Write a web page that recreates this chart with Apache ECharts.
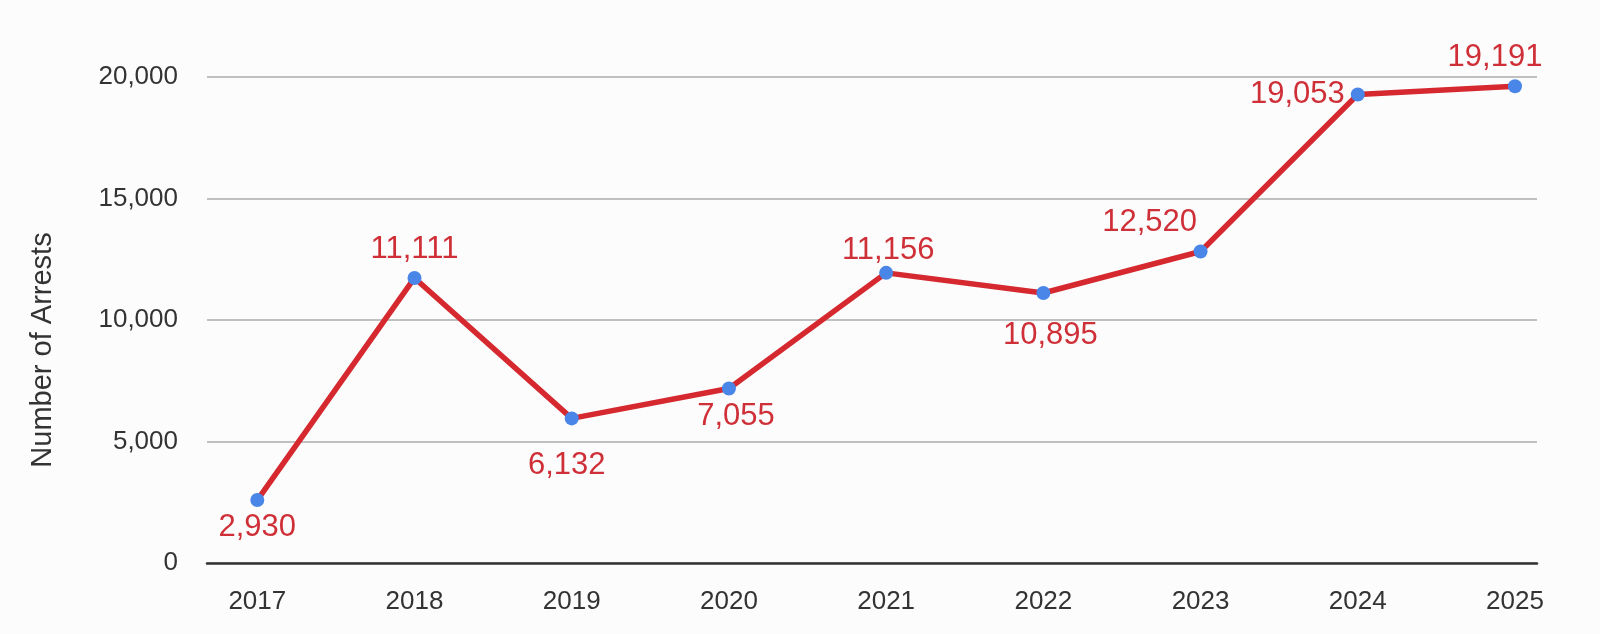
<!DOCTYPE html>
<html lang="en">
<head>
  <meta charset="UTF-8">
  <title>Number of Arrests</title>
  <style>
    html, body { margin: 0; padding: 0; background: #fcfcfc; }
    #myEcharts { width: 1600px; height: 634px; }
  </style>
  <script src="https://cdn.jsdelivr.net/npm/echarts@6/dist/echarts.min.js"></script>
</head>
<body>
  <div id="myEcharts"></div>
  <script>
    // years on the x axis
    var years = [2017, 2018, 2019, 2020, 2021, 2022, 2023, 2024, 2025];
    // where the points sit in the picture
    var arrests = [2590, 11730, 5950, 7180, 11940, 11110, 12820, 19280, 19620];
    // the printed labels (they don't quite match the point heights)
    var labelTexts = ['2,930', '11,111', '6,132', '7,055', '11,156', '10,895', '12,520', '19,053', '19,191'];
    var yTicks = [0, 5000, 10000, 15000, 20000];

    // label placement per point
    var labelPos = [
      { position: 'bottom', offset: [0, -3] },
      { position: 'top', offset: [0, 2] },
      { position: 'bottom', offset: [-5, 17] },
      { position: 'bottom', offset: [7, -3] },
      { position: 'top', offset: [2, 8] },
      { position: 'bottom', offset: [7, 12] },
      { position: 'top', offset: [-51, 1] },
      { position: 'left', offset: [2, 0] },
      { position: 'top', offset: [-20, 2] }
    ];

    var myChart = echarts.init(document.getElementById('myEcharts'));
    var option = {
      backgroundColor: '#fcfcfc',
      textStyle: { fontFamily: 'Liberation Sans' },
      grid: { left: 207, right: 63, top: 77, bottom: 71 },
      xAxis: {
        type: 'value',
        min: 2016.68,
        max: 2025.14,
        splitLine: { show: false },
        axisLine: { show: true, lineStyle: { color: '#333', width: 2.5 } },
        axisTick: { show: false },
        axisLabel: {
          customValues: years,
          color: '#333',
          fontSize: 26,
          margin: 26,
          formatter: function (v) { return String(v); }
        }
      },
      yAxis: {
        type: 'value',
        min: yTicks[0],
        max: yTicks[yTicks.length - 1],
        interval: 5000,
        name: 'Number of Arrests',
        nameLocation: 'middle',
        nameGap: 150,
        nameTextStyle: { color: '#333', fontSize: 29, padding: [0, 60, 0, 0] },
        axisLine: { show: false },
        axisTick: { show: false },
        axisLabel: {
          color: '#333',
          fontSize: 26,
          margin: 29,
          formatter: function (v) { return v.toLocaleString('en-US'); }
        },
        splitLine: { lineStyle: { color: '#c0c0c0', width: 2 } }
      },
      series: [{
        type: 'line',
        data: years.map(function (y, i) {
          return {
            value: [y, arrests[i]],
            label: Object.assign({ formatter: labelTexts[i] }, labelPos[i])
          };
        }),
        symbol: 'circle',
        symbolSize: 14,
        itemStyle: { color: '#4a86e8' },
        lineStyle: { color: '#d5282f', width: 5.5 },
        label: {
          show: true,
          color: '#cf3038',
          fontSize: 31,
          distance: 8
        },
        z: 3
      }]
    };
    myChart.setOption(option);
  </script>
</body>
</html>
